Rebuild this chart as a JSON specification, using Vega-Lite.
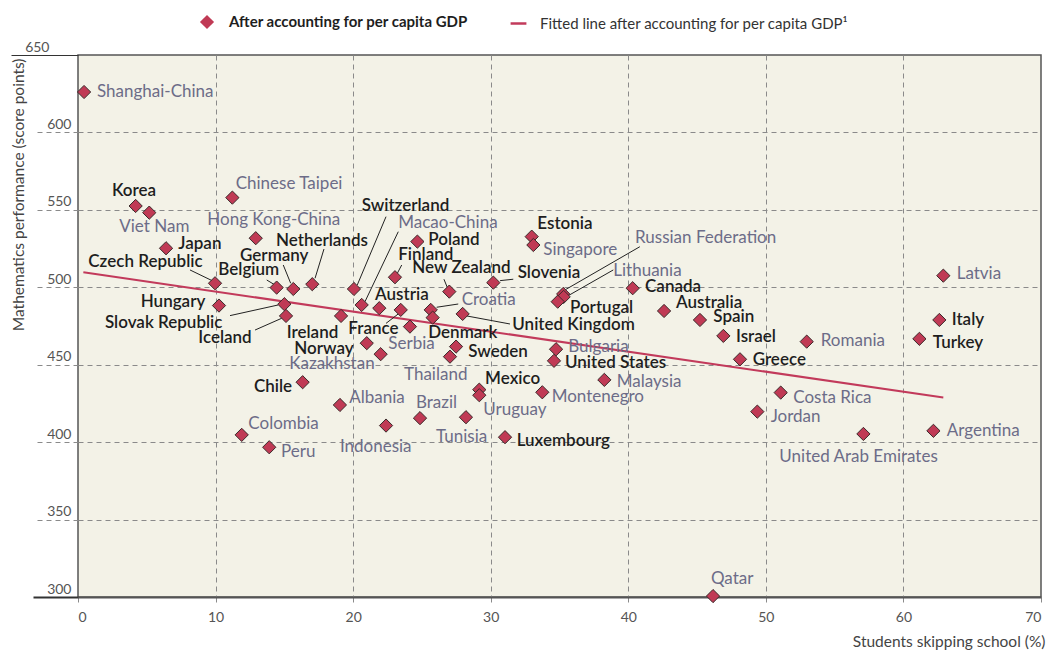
{
  "$schema": "https://vega.github.io/schema/vega-lite/v6.json",
  "width": 963,
  "height": 542,
  "autosize": {"type": "none"},
  "padding": {"left": 78, "top": 55, "right": 10, "bottom": 53},
  "background": "white",
  "config": {
    "view": {"fill": "#f3f2e7", "stroke": "#555555", "strokeWidth": 1.5},
    "font": "Lato"
  },
  "datasets": {
    "countries": [
      {"c": "Shanghai-China", "g": "P", "x": 0.44, "y": 626.1, "lx": 1.38, "ly": 626.1},
      {"c": "Korea", "g": "O", "x": 4.19, "y": 552.5, "lx": 2.47, "ly": 562.2},
      {"c": "Viet Nam", "g": "P", "x": 5.18, "y": 548.2, "lx": 3.0, "ly": 538.7},
      {"c": "Chinese Taipei", "g": "P", "x": 11.22, "y": 557.9, "lx": 11.46, "ly": 566.7},
      {"c": "Hong Kong-China", "g": "P", "x": 12.92, "y": 531.7, "lx": 9.4, "ly": 543.5},
      {"c": "Japan", "g": "O", "x": 6.4, "y": 525.2, "lx": 7.29, "ly": 528.0},
      {"c": "Czech Republic", "g": "O", "x": 9.96, "y": 502.6, "lx": 0.75, "ly": 516.1, "ax": 8.14, "ay": 511.2, "bx": 9.79, "by": 504.1},
      {"c": "Belgium", "g": "O", "x": 14.44, "y": 499.8, "lx": 10.2, "ly": 511.2, "ax": 13.72, "ay": 504.7, "bx": 14.32, "by": 501.5},
      {"c": "Germany", "g": "O", "x": 15.65, "y": 498.9, "lx": 11.78, "ly": 520.2, "ax": 14.92, "ay": 514.4, "bx": 15.46, "by": 502.6},
      {"c": "Netherlands", "g": "O", "x": 17.03, "y": 502.0, "lx": 14.39, "ly": 530.1, "ax": 17.88, "ay": 524.7, "bx": 17.23, "by": 505.8},
      {"c": "Switzerland", "g": "O", "x": 20.06, "y": 498.9, "lx": 20.62, "ly": 552.5, "ax": 22.39, "ay": 545.6, "bx": 20.3, "by": 501.5},
      {"c": "Hungary", "g": "O", "x": 10.25, "y": 488.2, "lx": 4.56, "ly": 490.7},
      {"c": "Slovak Republic", "g": "O", "x": 15.0, "y": 489.1, "lx": 1.96, "ly": 476.7, "ax": 11.05, "ay": 481.7, "bx": 14.56, "by": 488.6},
      {"c": "Iceland", "g": "O", "x": 15.12, "y": 481.5, "lx": 8.74, "ly": 467.1, "ax": 12.87, "ay": 472.4, "bx": 14.81, "by": 480.0},
      {"c": "Ireland", "g": "O", "x": 19.12, "y": 481.5, "lx": 15.17, "ly": 470.5},
      {"c": "Macao-China", "g": "P", "x": 20.62, "y": 488.6, "lx": 23.28, "ly": 541.3, "ax": 23.28, "ay": 535.9, "bx": 20.86, "by": 490.7},
      {"c": "Austria", "g": "O", "x": 21.9, "y": 486.5, "lx": 21.59, "ly": 495.0},
      {"c": "France", "g": "O", "x": 23.46, "y": 485.4, "lx": 19.65, "ly": 472.9, "ax": 22.39, "ay": 476.7, "bx": 23.28, "by": 482.8},
      {"c": "Finland", "g": "O", "x": 23.04, "y": 506.5, "lx": 23.28, "ly": 520.9, "ax": 23.53, "ay": 514.4, "bx": 23.21, "by": 509.0},
      {"c": "Poland", "g": "O", "x": 24.67, "y": 529.5, "lx": 25.46, "ly": 530.5},
      {"c": "New Zealand", "g": "O", "x": 26.99, "y": 497.2, "lx": 24.3, "ly": 512.3, "ax": 26.6, "ay": 505.2, "bx": 26.84, "by": 500.0},
      {"c": "Croatia", "g": "P", "x": 25.64, "y": 485.4, "lx": 27.89, "ly": 491.8, "ax": 26.07, "ay": 487.1, "bx": 27.64, "by": 489.2},
      {"c": "Denmark", "g": "O", "x": 25.78, "y": 480.4, "lx": 25.46, "ly": 470.3},
      {"c": "Serbia", "g": "P", "x": 24.13, "y": 474.6, "lx": 22.56, "ly": 463.1},
      {"c": "Kazakhstan", "g": "P", "x": 22.0, "y": 456.8, "lx": 15.36, "ly": 450.5},
      {"c": "Norway", "g": "O", "x": 20.99, "y": 463.9, "lx": 15.72, "ly": 460.2},
      {"c": "United Kingdom", "g": "O", "x": 27.96, "y": 482.8, "lx": 31.57, "ly": 475.7, "ax": 28.25, "ay": 481.5, "bx": 31.4, "by": 476.3},
      {"c": "Sweden", "g": "O", "x": 27.48, "y": 461.7, "lx": 28.37, "ly": 458.4},
      {"c": "Thailand", "g": "P", "x": 27.04, "y": 455.2, "lx": 23.7, "ly": 443.4},
      {"c": "Estonia", "g": "O", "x": 32.98, "y": 532.7, "lx": 33.39, "ly": 540.7},
      {"c": "Singapore", "g": "P", "x": 33.1, "y": 527.3, "lx": 33.82, "ly": 524.1},
      {"c": "Slovenia", "g": "O", "x": 30.19, "y": 503.0, "lx": 31.96, "ly": 509.0, "ax": 30.68, "ay": 504.3, "bx": 31.64, "by": 505.2},
      {"c": "Russian Federation", "g": "P", "x": 35.27, "y": 495.7, "lx": 40.49, "ly": 531.6, "ax": 40.84, "ay": 526.2, "bx": 35.4, "by": 498.3},
      {"c": "Lithuania", "g": "P", "x": 35.3, "y": 493.8, "lx": 38.91, "ly": 510.7, "ax": 38.91, "ay": 511.2, "bx": 35.52, "by": 494.0},
      {"c": "Portugal", "g": "O", "x": 34.87, "y": 490.7, "lx": 35.76, "ly": 486.4},
      {"c": "Bulgaria", "g": "P", "x": 34.75, "y": 460.0, "lx": 35.64, "ly": 461.6},
      {"c": "United States", "g": "O", "x": 34.6, "y": 452.5, "lx": 35.4, "ly": 450.9},
      {"c": "Malaysia", "g": "P", "x": 38.26, "y": 440.2, "lx": 39.16, "ly": 439.0},
      {"c": "Montenegro", "g": "P", "x": 33.75, "y": 432.2, "lx": 34.43, "ly": 429.3},
      {"c": "Mexico", "g": "O", "x": 29.17, "y": 433.9, "lx": 29.59, "ly": 440.6},
      {"c": "Uruguay", "g": "P", "x": 29.17, "y": 430.3, "lx": 29.46, "ly": 420.8},
      {"c": "Tunisia", "g": "P", "x": 28.2, "y": 416.1, "lx": 26.02, "ly": 403.1},
      {"c": "Luxembourg", "g": "O", "x": 31.04, "y": 403.2, "lx": 31.89, "ly": 400.7},
      {"c": "Brazil", "g": "P", "x": 24.86, "y": 415.5, "lx": 24.57, "ly": 425.1},
      {"c": "Indonesia", "g": "P", "x": 22.39, "y": 410.7, "lx": 19.04, "ly": 397.1},
      {"c": "Albania", "g": "P", "x": 19.04, "y": 424.0, "lx": 19.72, "ly": 428.3},
      {"c": "Chile", "g": "O", "x": 16.33, "y": 438.7, "lx": 12.79, "ly": 435.4},
      {"c": "Colombia", "g": "P", "x": 11.9, "y": 404.7, "lx": 12.38, "ly": 411.7},
      {"c": "Peru", "g": "P", "x": 13.9, "y": 396.7, "lx": 14.76, "ly": 393.8},
      {"c": "Canada", "g": "O", "x": 40.32, "y": 499.4, "lx": 41.22, "ly": 500.4},
      {"c": "Australia", "g": "O", "x": 42.6, "y": 484.7, "lx": 43.47, "ly": 490.1},
      {"c": "Spain", "g": "O", "x": 45.21, "y": 478.9, "lx": 46.18, "ly": 481.0},
      {"c": "Israel", "g": "O", "x": 46.91, "y": 468.6, "lx": 47.83, "ly": 468.1},
      {"c": "Greece", "g": "O", "x": 48.12, "y": 453.5, "lx": 49.04, "ly": 453.0},
      {"c": "Romania", "g": "P", "x": 52.97, "y": 464.9, "lx": 53.99, "ly": 465.5},
      {"c": "Costa Rica", "g": "P", "x": 51.08, "y": 432.0, "lx": 51.99, "ly": 428.3},
      {"c": "Jordan", "g": "P", "x": 49.38, "y": 419.7, "lx": 50.35, "ly": 416.1},
      {"c": "United Arab Emirates", "g": "P", "x": 57.09, "y": 405.3, "lx": 50.98, "ly": 390.2},
      {"c": "Argentina", "g": "P", "x": 62.18, "y": 407.3, "lx": 63.15, "ly": 407.2},
      {"c": "Latvia", "g": "P", "x": 62.9, "y": 507.5, "lx": 63.87, "ly": 508.6},
      {"c": "Italy", "g": "O", "x": 62.61, "y": 478.9, "lx": 63.51, "ly": 478.9},
      {"c": "Turkey", "g": "O", "x": 61.16, "y": 466.7, "lx": 62.13, "ly": 464.2},
      {"c": "Qatar", "g": "P", "x": 46.16, "y": 300.6, "lx": 46.01, "ly": 311.6}
    ],
    "fit": [
      {"x": 0.39, "y": 509.7},
      {"x": 62.9, "y": 428.8}
    ]
  },
  "layer": [
    {
      "data": {"name": "fit"},
      "mark": {"type": "line", "strokeWidth": 2, "clip": false},
      "encoding": {
        "x": {
          "field": "x", "type": "quantitative",
          "scale": {"domain": [0, 70], "nice": false, "zero": false},
          "axis": {
            "values": [0, 10, 20, 30, 40, 50, 60, 70],
            "grid": true,
            "gridDash": [5, 4],
            "gridColor": "#8a8a8a",
            "gridWidth": 1,
            "gridOpacity": {"condition": {"test": "datum.value == 0 || datum.value == 70", "value": 0}, "value": 1},
            "domainColor": "#555555",
            "domainWidth": 2,
            "tickColor": "#8a8a8a",
            "tickSize": 9,
            "tickDash": [5, 4],
            "labelFont": "Lato",
            "labelFontSize": 14,
            "labelColor": "#555555",
            "labelPadding": 4,
            "title": "Students skipping school (%)",
            "titleFont": "Lato",
            "titleFontSize": 15.5,
            "titleFontWeight": "normal",
            "titleColor": "#444444",
            "titleX": 967,
            "titleY": 44,
            "titleAlign": "right",
            "titleBaseline": "middle"
          }
        },
        "y": {
          "field": "y", "type": "quantitative",
          "scale": {"domain": [300, 650], "nice": false, "zero": false},
          "axis": {
            "values": [300, 350, 400, 450, 500, 550, 600, 650],
            "grid": true,
            "gridDash": [5, 4],
            "gridColor": "#8a8a8a",
            "gridWidth": 1,
            "gridOpacity": {"condition": {"test": "datum.value == 300 || datum.value == 650", "value": 0}, "value": 1},
            "domain": false,
            "tickSize": {"condition": {"test": "datum.value == 650", "value": 67}, "value": 45},
            "tickColor": {"condition": {"test": "datum.value == 300 || datum.value == 650", "value": "#333333"}, "value": "#8a8a8a"},
            "tickDash": {"condition": {"test": "datum.value == 300 || datum.value == 650", "value": []}, "value": [5, 4]},
            "tickWidth": {"condition": {"test": "datum.value == 300", "value": 2}, "value": 1},
            "labelFont": "Lato",
            "labelFontSize": 14,
            "labelColor": "#555555",
            "labelPadding": -38,
            "labelBaseline": "alphabetic",
            "labelOffset": -4,
            "title": "Mathematics performance (score points)",
            "titleFont": "Lato",
            "titleFontSize": 15.5,
            "titleFontWeight": "normal",
            "titleColor": "#444444",
            "titleAngle": -90,
            "titleX": -60,
            "titleY": 3,
            "titleAlign": "right",
            "titleBaseline": "middle"
          }
        },
        "color": {
          "datum": "Fitted line after accounting for per capita GDP¹",
          "scale": {"range": ["#c23a5b"]},
          "legend": {
            "title": null,
            "orient": "none",
            "legendX": 431,
            "legendY": -41,
            "symbolType": "stroke",
            "symbolStrokeWidth": 2.5,
            "symbolSize": 250,
            "labelFont": "Lato",
            "labelFontSize": 15,
            "labelColor": "#333333",
            "labelFontWeight": "normal",
            "labelLimit": 0,
            "labelOffset": 12,
            "padding": 0
          }
        }
      }
    },
    {
      "data": {"name": "countries"},
      "transform": [{"filter": "isValid(datum.ax)"}],
      "mark": {"type": "rule", "color": "#222222", "strokeWidth": 1},
      "encoding": {
        "x": {"field": "ax", "type": "quantitative"},
        "y": {"field": "ay", "type": "quantitative"},
        "x2": {"field": "bx"},
        "y2": {"field": "by"}
      }
    },
    {
      "data": {"name": "countries"},
      "mark": {"type": "point", "filled": true, "fill": "#c03a55", "stroke": "#3a2a2a", "strokeWidth": 1, "opacity": 1, "fillOpacity": 1, "size": 175, "clip": false},
      "encoding": {
        "x": {"field": "x", "type": "quantitative"},
        "y": {"field": "y", "type": "quantitative"},
        "shape": {
          "datum": "After accounting for per capita GDP",
          "scale": {"range": ["diamond"]},
          "legend": {
            "title": null,
            "orient": "none",
            "legendX": 121,
            "legendY": -41,
            "symbolFillColor": "#c03a55",
            "symbolStrokeColor": "#3a2a2a",
            "symbolStrokeWidth": 1,
            "symbolSize": 200,
            "labelFont": "Lato",
            "labelFontSize": 15,
            "labelColor": "#1e1e1e",
            "labelFontWeight": "bold",
            "labelLimit": 0,
            "labelOffset": 14,
            "padding": 0
          }
        }
      }
    },
    {
      "data": {"name": "countries"},
      "transform": [{"filter": "datum.g == 'O'"}],
      "mark": {"type": "text", "align": "left", "baseline": "middle", "font": "Lato", "fontSize": 17, "fontWeight": 600, "color": "#1e1e1e"},
      "encoding": {
        "x": {"field": "lx", "type": "quantitative"},
        "y": {"field": "ly", "type": "quantitative"},
        "text": {"field": "c"}
      }
    },
    {
      "data": {"name": "countries"},
      "transform": [{"filter": "datum.g == 'P'"}],
      "mark": {"type": "text", "align": "left", "baseline": "middle", "font": "Lato", "fontSize": 17, "fontWeight": "normal", "color": "#6c6c88"},
      "encoding": {
        "x": {"field": "lx", "type": "quantitative"},
        "y": {"field": "ly", "type": "quantitative"},
        "text": {"field": "c"}
      }
    }
  ]
}
